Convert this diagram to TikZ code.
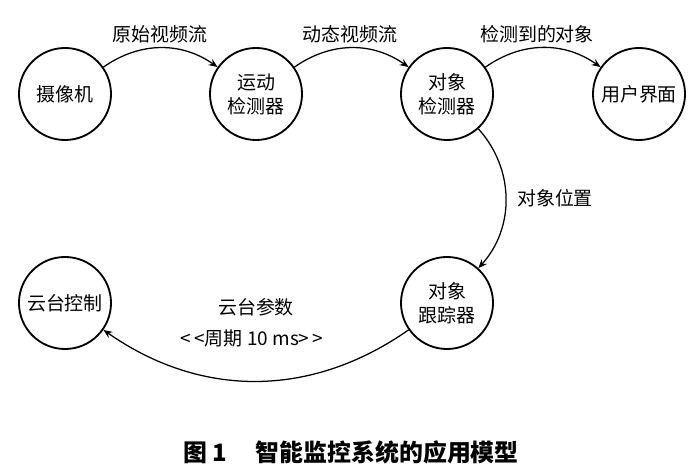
\documentclass[tikz,border=0pt]{standalone}
\usepackage{fontspec}
\setmainfont{Noto Sans CJK SC}
\usepackage{tikz}
\usetikzlibrary{arrows.meta}
\newcommand{\lblsize}{\fontsize{13.5}{17}\selectfont}

\begin{document}
\begin{tikzpicture}[x=0.025cm,y=-0.025cm,font=\lblsize,>={Stealth[length=2.2mm,width=1.8mm]},
    proc/.style={draw,circle,line width=1.3pt,minimum size=2.3cm,inner sep=0pt,align=center},
    flow/.style={line width=0.9pt,->}]
        \useasboundingbox (0,0) rectangle (700,471);
        % components
        \node[proc] (cam) at (65,94) {摄像机};
        \node[proc] (motion) at (256,94) {运动\\检测器};
        \node[proc] (objdet) at (447,94) {对象\\检测器};
        \node[proc] (ui) at (639,94) {用户界面};
        \node[proc] (track) at (447,303) {对象\\跟踪器};
        \node[proc] (ptz) at (65,303) {云台控制};
        % data flows
        \draw[flow] (cam) to[bend left=35] (motion);
        \draw[flow] (motion) to[bend left=35] (objdet);
        \draw[flow] (objdet) to[bend left=35] (ui);
        \draw[flow] (objdet) to[bend left=42] (track);
        \draw[flow] (track) to[bend left=35] (ptz);
        % flow labels
        \node (raw) at (160,34) {原始视频流};
        \node (dyn) at (350,34) {动态视频流};
        \node (found) at (537,34) {检测到的对象};
        \node (pos) at (555,198) {对象位置};
        \node (param) at (256,307) {云台参数};
        \node (period) at (252,338) {<\,<周期 10 ms>\,>};
        % caption
        \node[font=\fontsize{17}{20}\selectfont\bfseries] (cap) at (351,452) {图 1\hspace{1.2em}智能监控系统的应用模型};
      \end{tikzpicture}
\end{document}
